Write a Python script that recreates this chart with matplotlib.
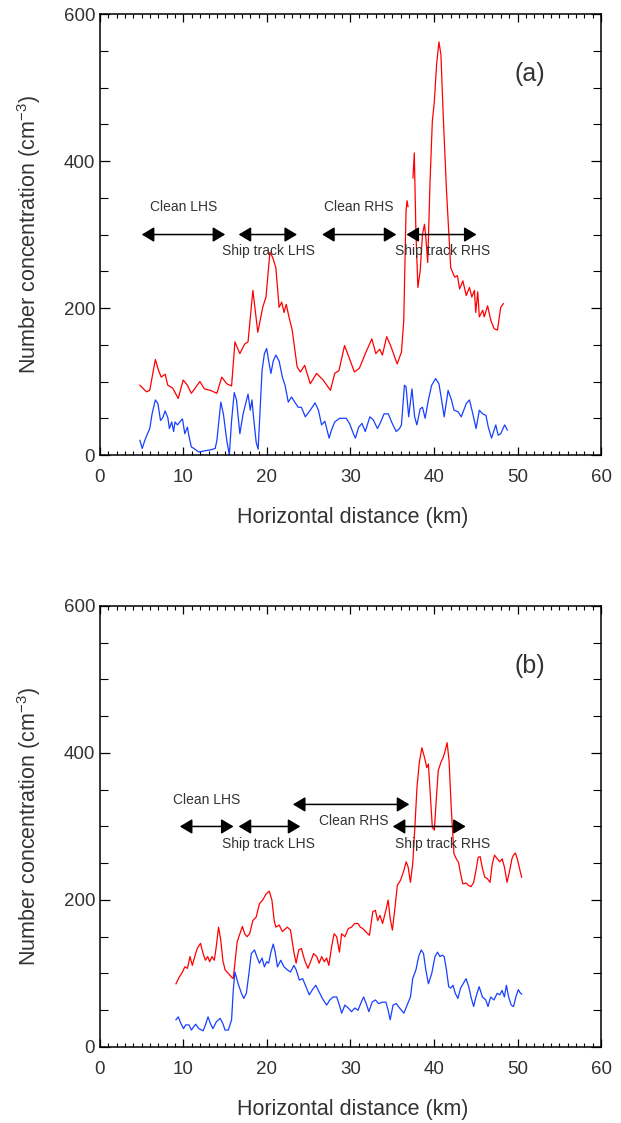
import numpy as np
import matplotlib
matplotlib.use("Agg")
import matplotlib.pyplot as plt

plt.rcParams['font.family'] = ['Liberation Sans', 'DejaVu Sans']
plt.rcParams['mathtext.fontset'] = 'custom'
plt.rcParams['mathtext.rm'] = 'Liberation Sans'
plt.rcParams['mathtext.it'] = 'Liberation Sans:italic'
plt.rcParams['mathtext.default'] = 'regular'

nan = np.nan

# ---- panel (a) ----
red_a_x = [4.78, 5.57, 5.96, 6.63, 7.02, 7.33, 7.8, 8.12, 8.71, 9.37,
           9.96, 10.47, 10.94, 11.33, 11.96, 12.51, 13.22, 14.0, 14.59, 15.18,
           15.76, 16.16, 16.75, 17.33, 17.73, 18.31, 18.9, 19.49, 19.88, 20.35,
           20.67, 21.06, 21.45, 21.76, 22.04, 22.31, 22.63, 23.02, 23.61, 24.0,
           24.51, 25.18, 25.94, 26.73, 27.6, 28.11, 28.62, 29.29, 29.88, 30.47,
           31.06, 31.85, 32.56, 33.03, 33.5, 33.82, 34.33, 34.8, 35.59, 36.1,
           36.38, 36.65, 36.77, 36.89, nan, 37.48, 37.64, 37.83, 38.07, 38.35,
           38.62, 38.86, 39.02, 39.25, 39.53, 39.8, 40.04, 40.31, 40.59, 40.83,
           41.1, 41.5, 42.0, 42.48, 42.8, 43.07, 43.46, 43.86, 44.25, 44.53,
           44.84, 45.0, 45.24, 45.43, 45.83, 46.02, 46.42, 46.81, 47.2, 47.6,
           47.99, 48.31]
red_a_y = [95, 86, 88, 130, 115, 106, 110, 95, 91, 77,
           102, 95, 84, 90, 100, 90, 88, 84, 106, 97,
           94, 154, 138, 151, 154, 224, 167, 201, 215, 276,
           269, 255, 201, 208, 194, 205, 188, 170, 120, 113,
           122, 97, 111, 102, 88, 111, 115, 149, 131, 113,
           118, 140, 158, 138, 144, 136, 161, 149, 124, 140,
           183, 332, 346, 338, nan, 377, 411, 305, 228, 251,
           300, 314, 296, 262, 373, 454, 481, 531, 562, 545,
           463, 359, 255, 242, 244, 226, 237, 217, 228, 215,
           224, 194, 222, 188, 197, 188, 203, 183, 172, 170,
           201, 206]

blue_a_x = [4.78, 5.06, 5.37, 5.69, 5.96, 6.24, 6.63, 6.94, 7.25, 7.53,
            7.8, 8.12, 8.31, 8.59, 8.82, 8.98, 9.29, 9.69, 9.88, 10.16,
            10.47, 10.67, 10.94, 11.25, 11.84, 12.63, 13.22, 13.8, 14.0, 14.47,
            14.78, 15.18, 15.49, 15.76, 16.08, 16.35, 16.75, 17.14, 17.73, 18.0,
            18.2, 18.43, 18.71, 18.94, 19.41, 19.69, 19.96, 20.2, 20.47, 20.75,
            21.06, 21.45, 21.84, 22.16, 22.55, 22.94, 23.33, 23.73, 24.12, 24.59,
            25.18, 25.76, 26.16, 26.54, 26.93, 27.44, 27.72, 28.11, 28.7, 29.49,
            29.88, 30.35, 30.59, 30.98, 31.38, 31.77, 32.32, 32.72, 33.23, 33.62,
            34.02, 34.53, 35.0, 35.47, 35.87, 36.1, 36.46, 36.65, 36.97, 37.36,
            37.68, 37.95, 38.35, 38.62, 38.94, 39.33, 39.72, 40.2, 40.59, 40.91,
            41.22, 41.69, 42.09, 42.4, 42.87, 43.27, 43.86, 44.25, 44.65, 45.04,
            45.43, 45.83, 46.22, 46.5, 46.89, 47.4, 47.68, 47.99, 48.46, 48.78]
blue_a_y = [20, 9, 20, 29, 36, 56, 75, 70, 47, 51,
            60, 51, 36, 45, 32, 45, 41, 47, 49, 29,
            38, 25, 11, 9, 4, 6, 7, 9, 20, 72,
            56, 20, 0, 47, 85, 75, 29, 56, 83, 61,
            75, 47, 17, 8, 115, 138, 145, 128, 111, 128,
            136, 128, 106, 95, 72, 79, 72, 65, 65, 52,
            61, 71, 61, 41, 46, 23, 34, 45, 50, 50,
            43, 29, 23, 38, 43, 32, 52, 48, 36, 45,
            56, 56, 43, 32, 36, 41, 95, 93, 52, 90,
            52, 41, 63, 65, 50, 75, 95, 104, 97, 75,
            52, 88, 75, 61, 59, 52, 70, 75, 56, 36,
            61, 56, 54, 38, 23, 41, 27, 29, 41, 34]

# (start, end, level) of each double arrow, and the labels
arrows_a = [(5.0, 15.0, 300), (16.6, 23.6, 300), (26.6, 35.5, 300), (36.7, 45.1, 300)]
labels_a = [("Clean LHS", 10.0, 338), ("Ship track LHS", 20.2, 277),
            ("Clean RHS", 31.0, 338), ("Ship track RHS", 41.0, 277)]

# ---- panel (b) ----
red_b_x = [9.1, 9.49, 9.88, 10.16, 10.47, 10.78, 11.06, 11.45, 11.65, 12.04,
           12.35, 12.63, 12.9, 13.14, 13.41, 13.69, 13.92, 14.2, 14.47, 14.71,
           14.98, 15.37, 15.76, 15.96, 16.16, 16.43, 16.75, 17.06, 17.33, 17.6,
           17.92, 18.31, 18.71, 19.1, 19.49, 19.88, 20.27, 20.59, 20.86, 21.06,
           21.45, 21.84, 22.43, 22.82, 23.22, 23.49, 23.8, 24.12, 24.51, 24.9,
           25.29, 25.57, 25.96, 26.24, 26.55, 26.86, 27.14, 27.41, 27.73, 28.04,
           28.35, 28.67, 28.94, 29.33, 29.73, 30.12, 30.51, 30.9, 31.18, 31.49,
           31.88, 32.27, 32.67, 32.98, 33.25, 33.53, 33.84, 34.24, 34.51, 34.75,
           35.02, 35.33, 35.61, 36.0, 36.39, 36.67, 36.9, 37.18, 37.45, 37.69,
           37.96, 38.24, 38.55, 38.86, 39.14, 39.33, 39.53, 39.8, 40.04, 40.24,
           40.51, 40.82, 41.1, 41.29, 41.57, 41.8, 42.08, 42.39, 42.67, 42.94,
           43.18, 43.45, 43.84, 44.12, 44.43, 44.75, 45.02, 45.29, 45.53, 45.8,
           46.08, 46.39, 46.71, 46.98, 47.25, 47.57, 47.88, 48.16, 48.43, 48.75,
           49.06, 49.33, 49.53, 49.75, 50.0, 50.3, 50.5]
red_b_y = [86, 95, 102, 109, 107, 123, 111, 127, 134, 141,
           127, 118, 123, 116, 123, 118, 136, 163, 145, 118,
           105, 100, 95, 93, 114, 143, 154, 164, 154, 150,
           154, 172, 177, 195, 200, 208, 212, 200, 172, 163,
           166, 157, 163, 159, 129, 114, 132, 134, 118, 107,
           118, 127, 123, 114, 123, 116, 121, 111, 136, 154,
           150, 129, 154, 150, 161, 163, 168, 168, 163, 161,
           156, 152, 184, 186, 172, 179, 168, 186, 200, 175,
           159, 190, 220, 227, 240, 252, 245, 224, 249, 295,
           353, 387, 407, 394, 380, 385, 349, 299, 295, 331,
           376, 387, 394, 401, 414, 390, 322, 263, 256, 251,
           236, 222, 223, 220, 218, 224, 240, 258, 259, 243,
           231, 229, 224, 249, 261, 256, 252, 256, 245, 224,
           240, 256, 261, 264, 255, 240, 231]

blue_b_x = [9.1, 9.37, 9.69, 10.0, 10.27, 10.67, 10.94, 11.45, 11.84, 12.35,
            12.63, 12.94, 13.22, 13.53, 13.92, 14.39, 14.71, 14.98, 15.37, 15.76,
            15.96, 16.16, 16.55, 16.94, 17.22, 17.53, 17.84, 18.12, 18.51, 18.78,
            19.1, 19.41, 19.69, 19.96, 20.2, 20.47, 20.75, 20.98, 21.25, 21.65,
            22.04, 22.43, 22.82, 23.22, 23.49, 23.88, 24.27, 24.67, 25.06, 25.45,
            25.84, 26.24, 26.63, 27.14, 27.53, 27.92, 28.35, 28.67, 28.94, 29.33,
            29.73, 30.12, 30.51, 30.9, 31.29, 31.57, 31.88, 32.2, 32.59, 32.98,
            33.37, 33.84, 34.24, 34.51, 34.75, 35.1, 35.49, 35.88, 36.39, 36.78,
            37.18, 37.45, 37.84, 38.16, 38.47, 38.75, 39.02, 39.33, 39.73, 40.12,
            40.43, 40.71, 40.98, 41.22, 41.49, 41.76, 42.0, 42.27, 42.55, 42.86,
            43.18, 43.49, 43.84, 44.16, 44.43, 44.75, 45.02, 45.41, 45.8, 46.2,
            46.47, 46.78, 47.18, 47.57, 47.88, 48.16, 48.43, 48.67, 48.94, 49.25,
            49.53, 49.8, 50.1, 50.3, 50.5]
blue_b_y = [37, 41, 32, 25, 30, 30, 23, 31, 25, 22,
            30, 41, 32, 25, 34, 39, 32, 23, 23, 37,
            77, 102, 86, 73, 66, 73, 100, 127, 132, 123,
            114, 121, 109, 116, 114, 129, 140, 129, 109, 118,
            109, 105, 102, 111, 105, 91, 93, 82, 71, 78,
            84, 75, 66, 57, 64, 68, 68, 57, 46, 57,
            53, 48, 53, 50, 61, 68, 59, 48, 61, 64,
            59, 61, 61, 50, 37, 57, 59, 53, 46, 57,
            68, 93, 105, 123, 132, 127, 105, 86, 100, 123,
            129, 123, 125, 123, 105, 82, 80, 84, 73, 66,
            80, 86, 93, 82, 68, 55, 68, 82, 68, 64,
            55, 68, 64, 73, 71, 77, 68, 84, 68, 57,
            55, 68, 78, 74, 72]

arrows_b = [(9.56, 16.0, 300), (16.6, 24.0, 300), (23.1, 37.05, 330), (35.06, 43.8, 300)]
labels_b = [("Clean LHS", 12.8, 336), ("Ship track LHS", 20.2, 276),
            ("Clean RHS", 30.4, 307), ("Ship track RHS", 41.0, 276)]

TXT = '#333333'


def panel(ax, rx, ry, bx, by, arrows, labels, tag):
    """Draw one transect panel with red/blue traces and the region arrows."""
    ax.plot(rx, ry, color='#ff0000', lw=0.9)
    ax.plot(bx, by, color='#1740ff', lw=0.9)

    for x0, x1, lev in arrows:
        ax.annotate('', xy=(x1, lev), xytext=(x0, lev),
                    arrowprops=dict(arrowstyle='<|-|>,head_length=0.75,head_width=0.45',
                                    color='black', lw=1.1, mutation_scale=10,
                                    shrinkA=0, shrinkB=0))
    for txt, x, y in labels:
        ax.text(x, y, txt, ha='center', va='center', fontsize=10, color=TXT)

    ax.text(51.5, 519, tag, ha='center', va='center', fontsize=18, color=TXT)

    ax.set_xlim(0, 60)
    ax.set_ylim(0, 600)
    ax.set_xticks(np.arange(0, 61, 10))
    ax.set_xticks(np.arange(0, 61, 1), minor=True)
    ax.set_yticks(np.arange(0, 601, 200))
    ax.set_yticks(np.arange(0, 601, 50), minor=True)
    ax.tick_params(which='both', direction='in', top=True, right=True,
                   colors='black', labelcolor=TXT, labelsize=13.5)
    ax.tick_params(axis='x', which='major', length=5.8, width=0.9, pad=10)
    ax.tick_params(axis='x', which='minor', length=2.9, width=0.8)
    ax.tick_params(axis='y', which='major', length=7.2, width=0.9, pad=3.5)
    ax.tick_params(axis='y', which='minor', length=5.8, width=0.8)
    for s in ax.spines.values():
        s.set_linewidth(1.1)

    ax.set_xlabel('Horizontal distance (km)', fontsize=15.5, color=TXT)
    ax.set_ylabel('Number concentration (cm$^{-3}$)', fontsize=15.5, color=TXT)
    ax.xaxis.set_label_coords(0.505, -0.118)
    ax.yaxis.set_label_coords(-0.113, 0.5)


fig = plt.figure(figsize=(6.21, 11.23), dpi=100)
ax_a = fig.add_axes([0.161, 0.5948, 0.8068, 0.3927])
ax_b = fig.add_axes([0.161, 0.0677, 0.8068, 0.3927])

panel(ax_a, red_a_x, red_a_y, blue_a_x, blue_a_y, arrows_a, labels_a, '(a)')
panel(ax_b, red_b_x, red_b_y, blue_b_x, blue_b_y, arrows_b, labels_b, '(b)')

fig.savefig('out.png', dpi=100)
